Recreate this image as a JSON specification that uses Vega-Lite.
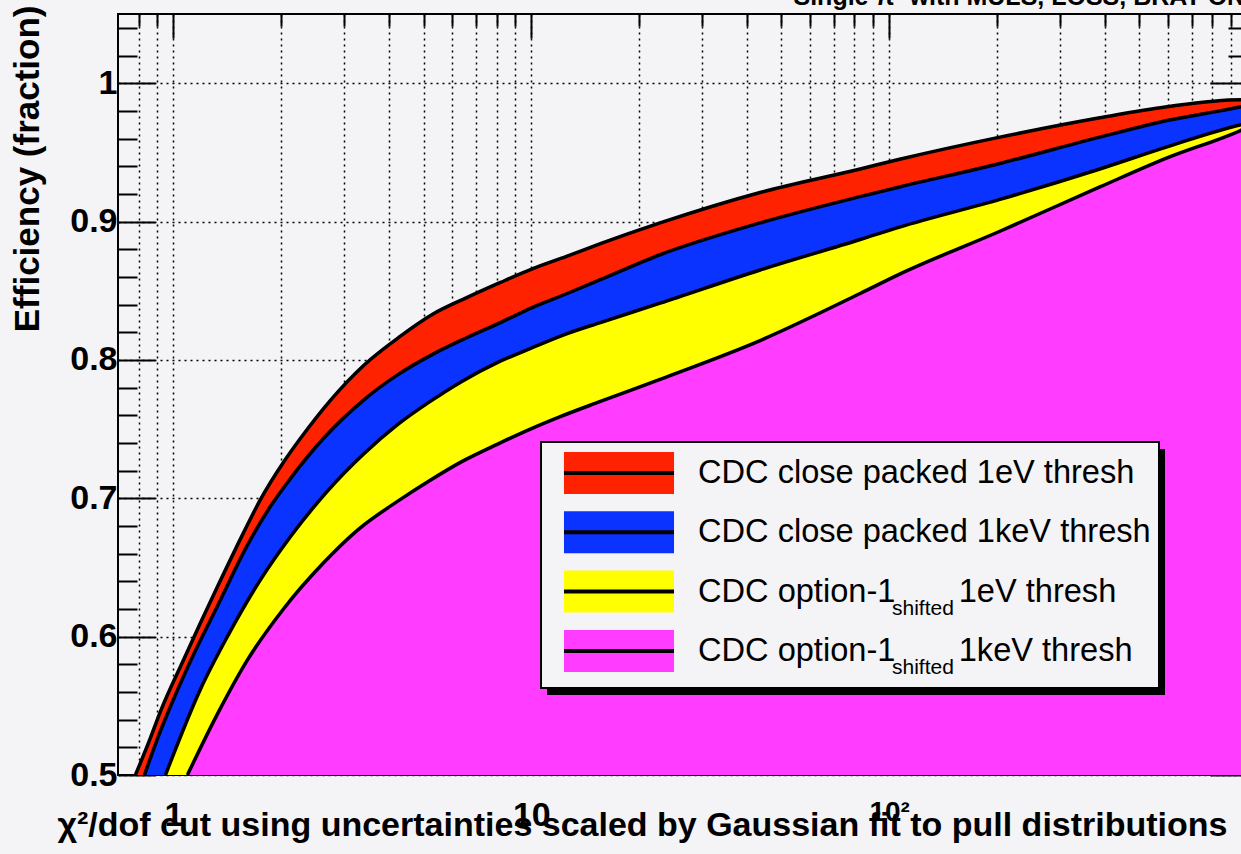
{
  "$schema": "https://vega.github.io/schema/vega-lite/v6.json",
  "width": 1129,
  "height": 761,
  "autosize": {"type": "none"},
  "padding": {"left": 118, "top": 14, "right": 0, "bottom": 79},
  "background": "#f4f3f6",
  "config": {
    "font": "Liberation Sans",
    "view": {"stroke": "black", "strokeWidth": 2, "fill": "#f4f3f6"},
    "legend": {"strokeWidth": 2},
    "axis": {"domain": false, "labelColor": "black", "tickColor": "black", "titleColor": "black", "gridColor": "black", "gridDash": [2, 4], "gridWidth": 1.5, "tickWidth": 2, "labelFont": "Liberation Sans", "titleFont": "Liberation Sans", "labelFlush": false, "labelOverlap": false, "tickCount": 200}
  },
  "data": {"values": [
    {"series": "CDC close packed 1eV thresh", "chi2": 0.783, "eff": 0.5},
    {"series": "CDC close packed 1eV thresh", "chi2": 0.863, "eff": 0.527},
    {"series": "CDC close packed 1eV thresh", "chi2": 0.92, "eff": 0.546},
    {"series": "CDC close packed 1eV thresh", "chi2": 1.066, "eff": 0.583},
    {"series": "CDC close packed 1eV thresh", "chi2": 1.327, "eff": 0.636},
    {"series": "CDC close packed 1eV thresh", "chi2": 1.569, "eff": 0.675},
    {"series": "CDC close packed 1eV thresh", "chi2": 1.75, "eff": 0.699},
    {"series": "CDC close packed 1eV thresh", "chi2": 2.03, "eff": 0.726},
    {"series": "CDC close packed 1eV thresh", "chi2": 2.26, "eff": 0.743},
    {"series": "CDC close packed 1eV thresh", "chi2": 2.75, "eff": 0.771},
    {"series": "CDC close packed 1eV thresh", "chi2": 3.4, "eff": 0.796},
    {"series": "CDC close packed 1eV thresh", "chi2": 4.3, "eff": 0.817},
    {"series": "CDC close packed 1eV thresh", "chi2": 5.3, "eff": 0.833},
    {"series": "CDC close packed 1eV thresh", "chi2": 6.6, "eff": 0.845},
    {"series": "CDC close packed 1eV thresh", "chi2": 8.2, "eff": 0.856},
    {"series": "CDC close packed 1eV thresh", "chi2": 10.1, "eff": 0.866},
    {"series": "CDC close packed 1eV thresh", "chi2": 12.6, "eff": 0.875},
    {"series": "CDC close packed 1eV thresh", "chi2": 15.6, "eff": 0.884},
    {"series": "CDC close packed 1eV thresh", "chi2": 22.9, "eff": 0.899},
    {"series": "CDC close packed 1eV thresh", "chi2": 43.6, "eff": 0.921},
    {"series": "CDC close packed 1eV thresh", "chi2": 83, "eff": 0.938},
    {"series": "CDC close packed 1eV thresh", "chi2": 107, "eff": 0.945},
    {"series": "CDC close packed 1eV thresh", "chi2": 204, "eff": 0.961},
    {"series": "CDC close packed 1eV thresh", "chi2": 388, "eff": 0.975},
    {"series": "CDC close packed 1eV thresh", "chi2": 598, "eff": 0.983},
    {"series": "CDC close packed 1eV thresh", "chi2": 962, "eff": 0.988},
    {"series": "CDC close packed 1eV thresh", "chi2": 1000, "eff": 0.988},
    {"series": "CDC close packed 1keV thresh", "chi2": 0.83, "eff": 0.5},
    {"series": "CDC close packed 1keV thresh", "chi2": 0.89, "eff": 0.522},
    {"series": "CDC close packed 1keV thresh", "chi2": 1.115, "eff": 0.582},
    {"series": "CDC close packed 1keV thresh", "chi2": 1.327, "eff": 0.622},
    {"series": "CDC close packed 1keV thresh", "chi2": 1.609, "eff": 0.666},
    {"series": "CDC close packed 1keV thresh", "chi2": 1.866, "eff": 0.694},
    {"series": "CDC close packed 1keV thresh", "chi2": 2.12, "eff": 0.714},
    {"series": "CDC close packed 1keV thresh", "chi2": 2.62, "eff": 0.743},
    {"series": "CDC close packed 1keV thresh", "chi2": 3.4, "eff": 0.771},
    {"series": "CDC close packed 1keV thresh", "chi2": 4.22, "eff": 0.789},
    {"series": "CDC close packed 1keV thresh", "chi2": 5.3, "eff": 0.804},
    {"series": "CDC close packed 1keV thresh", "chi2": 6.6, "eff": 0.816},
    {"series": "CDC close packed 1keV thresh", "chi2": 8.2, "eff": 0.827},
    {"series": "CDC close packed 1keV thresh", "chi2": 10.1, "eff": 0.838},
    {"series": "CDC close packed 1keV thresh", "chi2": 12.6, "eff": 0.848},
    {"series": "CDC close packed 1keV thresh", "chi2": 15.6, "eff": 0.858},
    {"series": "CDC close packed 1keV thresh", "chi2": 22.9, "eff": 0.876},
    {"series": "CDC close packed 1keV thresh", "chi2": 43.6, "eff": 0.899},
    {"series": "CDC close packed 1keV thresh", "chi2": 83, "eff": 0.918},
    {"series": "CDC close packed 1keV thresh", "chi2": 107, "eff": 0.925},
    {"series": "CDC close packed 1keV thresh", "chi2": 204, "eff": 0.942},
    {"series": "CDC close packed 1keV thresh", "chi2": 388, "eff": 0.961},
    {"series": "CDC close packed 1keV thresh", "chi2": 598, "eff": 0.973},
    {"series": "CDC close packed 1keV thresh", "chi2": 962, "eff": 0.983},
    {"series": "CDC close packed 1keV thresh", "chi2": 1000, "eff": 0.984},
    {"series": "CDC option-1 1eV thresh", "chi2": 0.95, "eff": 0.5},
    {"series": "CDC option-1 1eV thresh", "chi2": 1.19, "eff": 0.562},
    {"series": "CDC option-1 1eV thresh", "chi2": 1.415, "eff": 0.6},
    {"series": "CDC option-1 1eV thresh", "chi2": 1.75, "eff": 0.641},
    {"series": "CDC option-1 1eV thresh", "chi2": 2.12, "eff": 0.672},
    {"series": "CDC option-1 1eV thresh", "chi2": 2.69, "eff": 0.705},
    {"series": "CDC option-1 1eV thresh", "chi2": 3.4, "eff": 0.732},
    {"series": "CDC option-1 1eV thresh", "chi2": 4.22, "eff": 0.753},
    {"series": "CDC option-1 1eV thresh", "chi2": 5.22, "eff": 0.770},
    {"series": "CDC option-1 1eV thresh", "chi2": 6.45, "eff": 0.785},
    {"series": "CDC option-1 1eV thresh", "chi2": 8.03, "eff": 0.798},
    {"series": "CDC option-1 1eV thresh", "chi2": 10.1, "eff": 0.809},
    {"series": "CDC option-1 1eV thresh", "chi2": 12.6, "eff": 0.819},
    {"series": "CDC option-1 1eV thresh", "chi2": 15.6, "eff": 0.827},
    {"series": "CDC option-1 1eV thresh", "chi2": 22.9, "eff": 0.841},
    {"series": "CDC option-1 1eV thresh", "chi2": 43.6, "eff": 0.865},
    {"series": "CDC option-1 1eV thresh", "chi2": 83, "eff": 0.887},
    {"series": "CDC option-1 1eV thresh", "chi2": 107, "eff": 0.896},
    {"series": "CDC option-1 1eV thresh", "chi2": 204, "eff": 0.916},
    {"series": "CDC option-1 1eV thresh", "chi2": 388, "eff": 0.938},
    {"series": "CDC option-1 1eV thresh", "chi2": 598, "eff": 0.954},
    {"series": "CDC option-1 1eV thresh", "chi2": 962, "eff": 0.97},
    {"series": "CDC option-1 1eV thresh", "chi2": 1000, "eff": 0.971},
    {"series": "CDC option-1 1keV thresh", "chi2": 1.094, "eff": 0.5},
    {"series": "CDC option-1 1keV thresh", "chi2": 1.327, "eff": 0.544},
    {"series": "CDC option-1 1keV thresh", "chi2": 1.609, "eff": 0.583},
    {"series": "CDC option-1 1keV thresh", "chi2": 2.03, "eff": 0.62},
    {"series": "CDC option-1 1keV thresh", "chi2": 2.62, "eff": 0.653},
    {"series": "CDC option-1 1keV thresh", "chi2": 3.27, "eff": 0.677},
    {"series": "CDC option-1 1keV thresh", "chi2": 4.3, "eff": 0.699},
    {"series": "CDC option-1 1keV thresh", "chi2": 5.22, "eff": 0.713},
    {"series": "CDC option-1 1keV thresh", "chi2": 6.45, "eff": 0.727},
    {"series": "CDC option-1 1keV thresh", "chi2": 8.03, "eff": 0.739},
    {"series": "CDC option-1 1keV thresh", "chi2": 9.94, "eff": 0.75},
    {"series": "CDC option-1 1keV thresh", "chi2": 12.05, "eff": 0.759},
    {"series": "CDC option-1 1keV thresh", "chi2": 15.6, "eff": 0.77},
    {"series": "CDC option-1 1keV thresh", "chi2": 22.9, "eff": 0.786},
    {"series": "CDC option-1 1keV thresh", "chi2": 43.6, "eff": 0.814},
    {"series": "CDC option-1 1keV thresh", "chi2": 83, "eff": 0.848},
    {"series": "CDC option-1 1keV thresh", "chi2": 107, "eff": 0.862},
    {"series": "CDC option-1 1keV thresh", "chi2": 204, "eff": 0.893},
    {"series": "CDC option-1 1keV thresh", "chi2": 388, "eff": 0.925},
    {"series": "CDC option-1 1keV thresh", "chi2": 598, "eff": 0.946},
    {"series": "CDC option-1 1keV thresh", "chi2": 962, "eff": 0.966},
    {"series": "CDC option-1 1keV thresh", "chi2": 1000, "eff": 0.968}
  ]},
  "resolve": {"axis": {"x": "independent", "y": "independent"}},
  "layer": [
    {
      "layer": [
        {
          "mark": {"type": "area", "clip": true, "interpolate": "monotone"},
          "encoding": {
            "x": {"field": "chi2", "type": "quantitative",
              "scale": {"type": "log", "domain": [0.7, 1000], "nice": false},
              "axis": {"orient": "bottom", "values": [0.8, 0.9, 1, 2, 3, 4, 5, 6, 7, 8, 9, 10, 20, 30, 40, 50, 60, 70, 80, 90, 100, 200, 300, 400, 500, 600, 700, 800, 900, 1000],
                "grid": true, "ticks": false, "tickCount": 200,
                "labelExpr": "datum.value == 1 ? '1' : datum.value == 10 ? '10' : datum.value == 100 ? '10²' : ''",
                "labelFontSize": {"condition": {"test": "datum.value == 100", "value": 28}, "value": 34},
                "labelFontWeight": "bold", "labelPadding": 23, "labelBaseline": "top",
                "title": "χ²/dof cut using uncertainties scaled by Gaussian fit to pull distributions",
                "titleFontSize": 34, "titleFontWeight": "bold", "titleX": 1109, "titleY": 60, "titleAlign": "right", "titleBaseline": "alphabetic"}},
            "y": {"field": "eff", "type": "quantitative", "stack": null,
              "scale": {"domain": [0.5, 1.05], "nice": false, "zero": false},
              "axis": {"orient": "left",
                "values": [0.5, 0.52, 0.54, 0.56, 0.58, 0.6, 0.62, 0.64, 0.66, 0.68, 0.7, 0.72, 0.74, 0.76, 0.78, 0.8, 0.82, 0.84, 0.86, 0.88, 0.9, 0.92, 0.94, 0.96, 0.98, 1, 1.02, 1.04],
                "grid": true, "tickCount": 200,
                "gridOpacity": {"condition": {"test": "abs(datum.value*10 - round(datum.value*10)) < 0.001", "value": 1}, "value": 0},
                "tickSize": -37,
                "tickDash": {"condition": {"test": "abs(datum.value*10 - round(datum.value*10)) < 0.001", "value": [40, 1]}, "value": [19, 60]},
                "labelExpr": "abs(datum.value*10 - round(datum.value*10)) < 0.001 ? format(datum.value, '.1~f') : ''",
                "labelFontSize": 34, "labelFontWeight": "bold", "labelPadding": 38,
                "title": "Efficiency (fraction)", "titleFontSize": 35, "titleFontWeight": "bold",
                "titleAngle": 270, "titleX": -80, "titleY": -9, "titleAlign": "right", "titleBaseline": "alphabetic"}},
            "y2": {"datum": 0.5},
            "fill": {"field": "series", "type": "nominal",
              "scale": {"range": ["#ff2200", "#0a33ff", "#ffff00", "#ff3cff"]},
              "legend": {"orient": "none", "legendX": 423, "legendY": 428, "title": null,
                "symbolType": "M-2.62,-1H2.62V1H-2.62Z", "symbolSize": 1764, "symbolOffset": 47,
                "symbolStrokeWidth": 4, "symbolStrokeColor": "transparent", "symbolOpacity": 1,
                "labelFontSize": 32.6, "labelFont": "Liberation Sans", "labelColor": "black",
                "labelOffset": 56, "rowPadding": 1.3, "padding": 8, "labelLimit": 1000,
                "fillColor": "#f4f3f6", "strokeColor": "black", "zindex": 1,
                "labelExpr": "(indexof(datum.label, 'option-1') >= 0 ? replace(datum.label, 'option-1 ', 'option-1\u00a0\u00a0\u00a0\u00a0\u00a0\u00a0\u00a0') : datum.label) + '\u00a0\u00a0\u00a0\u00a0'"}},
            "opacity": {"field": "series", "type": "nominal",
              "scale": {"domain": ["CDC option-1 1keV thresh", "CDC option-1 1eV thresh", "CDC close packed 1keV thresh", "CDC close packed 1eV thresh"], "range": [1, 1, 1, 1]},
              "legend": {"orient": "none", "legendX": 429, "legendY": 435, "title": null,
                "symbolType": "M-2.62,-1H2.62V1H-2.62Z", "symbolSize": 1764, "symbolOffset": 47,
                "symbolStrokeWidth": 4, "symbolStrokeColor": "transparent", "symbolOpacity": 0,
                "labelFontSize": 32.6, "labelFont": "Liberation Sans", "labelOpacity": 0,
                "labelOffset": 56, "rowPadding": 1.3, "padding": 8, "labelLimit": 1000,
                "fillColor": "black", "zindex": 0,
                "labelExpr": "(indexof(datum.label, 'option-1') >= 0 ? replace(datum.label, 'option-1 ', 'option-1\u00a0\u00a0\u00a0\u00a0\u00a0\u00a0\u00a0') : datum.label) + '\u00a0\u00a0\u00a0\u00a0'"}}
          }
        },
        {
          "mark": {"type": "line", "clip": true, "strokeWidth": 3.5, "interpolate": "monotone"},
          "encoding": {
            "x": {"field": "chi2", "type": "quantitative"},
            "y": {"field": "eff", "type": "quantitative"},
            "stroke": {"field": "series", "type": "nominal",
              "scale": {"domain": ["CDC close packed 1eV thresh", "CDC close packed 1keV thresh", "CDC option-1 1eV thresh", "CDC option-1 1keV thresh"], "range": ["black", "black", "black", "black"]},
              "legend": {"orient": "none", "legendX": 423, "legendY": 434, "title": null,
                "symbolType": "M-2.62,-1M-2.62,1M-2.62,-0.286H2.62", "symbolSize": 1764, "symbolOffset": 47,
                "symbolStrokeWidth": 4, "symbolFillColor": "transparent", "symbolStrokeColor": "black",
                "labelFontSize": 21, "labelFont": "Liberation Sans", "labelColor": "black", "labelBaseline": "top",
                "labelOffset": 250, "rowPadding": 1.3, "padding": 8, "labelLimit": 1000, "zindex": 2,
                "labelExpr": "indexof(datum.label, 'option-1') >= 0 ? 'shifted' : ''"}}
          }
        }
      ]
    },
    {
      "mark": {"type": "line", "opacity": 0},
      "encoding": {
        "x": {"field": "chi2", "type": "quantitative",
          "axis": {"orient": "top", "values": [0.8, 0.9, 1, 2, 3, 4, 5, 6, 7, 8, 9, 10, 20, 30, 40, 50, 60, 70, 80, 90, 100, 200, 300, 400, 500, 600, 700, 800, 900, 1000],
            "grid": false, "labels": false, "tickSize": -24, "tickCount": 200,
            "tickDash": {"condition": {"test": "abs(log(datum.value)/LN10 - round(log(datum.value)/LN10)) < 0.001", "value": [30, 1]}, "value": [12, 40]},
            "title": "Single π⁺ with MULS, LOSS, BRAT ON", "titleFontSize": 25, "titleFontWeight": "bold",
            "titleX": 675, "titleY": -5, "titleAlign": "left", "titleBaseline": "bottom", "titleAngle": 0}},
        "y": {"field": "eff", "type": "quantitative",
          "axis": {"orient": "right",
            "values": [0.5, 0.52, 0.54, 0.56, 0.58, 0.6, 0.62, 0.64, 0.66, 0.68, 0.7, 0.72, 0.74, 0.76, 0.78, 0.8, 0.82, 0.84, 0.86, 0.88, 0.9, 0.92, 0.94, 0.96, 0.98, 1, 1.02, 1.04],
            "grid": false, "labels": false, "title": null, "tickSize": -37, "tickCount": 200,
            "tickDash": {"condition": {"test": "abs(datum.value*10 - round(datum.value*10)) < 0.001", "value": [40, 1]}, "value": [19, 60]}}}
      }
    }
  ]
}
